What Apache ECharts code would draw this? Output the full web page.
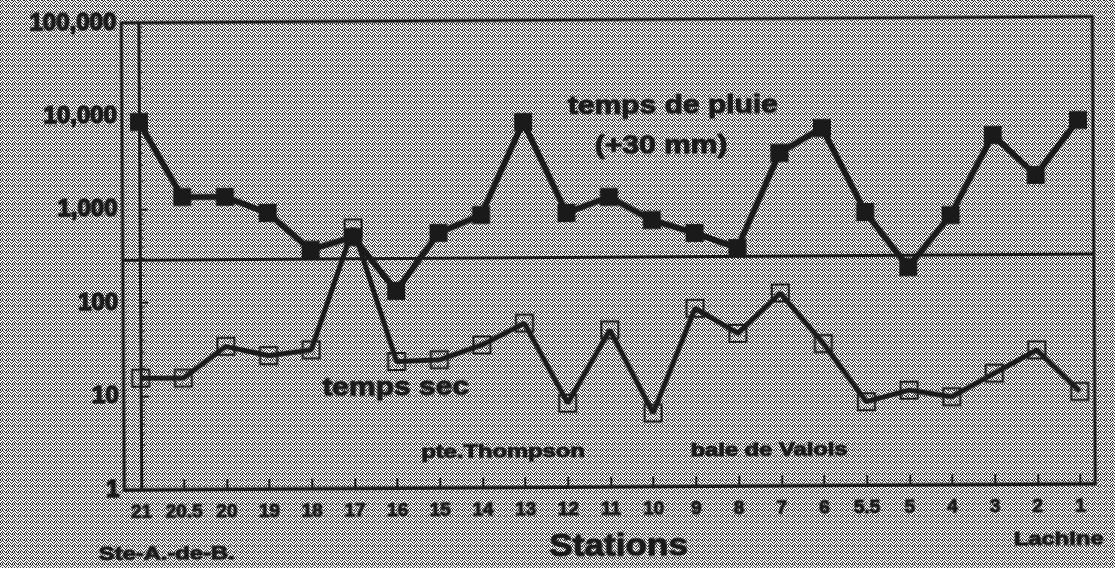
<!DOCTYPE html>
<html>
<head>
<meta charset="utf-8">
<script src="https://cdn.jsdelivr.net/npm/echarts@6/dist/echarts.min.js"></script>
<style>
  html, body { margin: 0; padding: 0; width: 1115px; height: 568px; overflow: hidden; background: #a8a8a8; }
  #chart { width: 1115px; height: 568px; transform: rotate(-0.37deg); transform-origin: 50% 50%; }
</style>
</head>
<body>
<div id="chart"></div>
<script>
// ---- data ----
const categories = ['21','20.5','20','19','18','17','16','15','14','13','12','11','10','9','8','7','6','5.5','5','4','3','2','1'];
const wetWeather = [8650,1350,1345,900,360,490,129,535,827,8130,857,1264,711,513,352,3640,6690,838,214,766,5480,2030,7820];
const dryWeather = [15.6,15.5,33.7,26.7,30.5,610,22.6,23.4,33.6,56.9,7.9,47.6,6.1,80,43,115,33,7.8,10.3,8.7,15.4,27.2,9.7];
const referenceLevel = 285;
const yMin = 1, yMax = 100000;

// ---- dithered background ----
(function () {
  const c = document.createElement('canvas');
  c.width = 6; c.height = 6;
  const g = c.getContext('2d');
  g.fillStyle = '#f0f0f0'; g.fillRect(0, 0, 6, 6);
  g.fillStyle = '#2e2e2e';
  [[0,0],[2,0],[5,0],[1,1],[3,1],[4,2],[0,2],[2,3],[5,3],[1,4],[3,4],[4,5],[0,5],[2,5]].forEach(p => g.fillRect(p[0], p[1], 1, 1));
  document.body.style.backgroundImage = 'url(' + c.toDataURL() + ')';
})();

const ink = '#1a1a1a';
const font = '"Liberation Sans", Arial, sans-serif';
const idx = categories.map((_, i) => i);
const txt = (text, x, y, size, sx) => ({
  type: 'text', x, y, scaleX: sx,
  style: { text, font: 'bold ' + size + 'px ' + font, fill: ink, stroke: ink, lineWidth: 1,
           textAlign: 'center', textVerticalAlign: 'middle' }
});

const chart = echarts.init(document.getElementById('chart'), null, { renderer: 'canvas' });
chart.setOption({
  backgroundColor: 'transparent',
  animation: false,
  grid: { left: 123, right: 21, top: 20, bottom: 81, show: true, borderColor: ink, borderWidth: 3, backgroundColor: 'transparent' },
  xAxis: {
    type: 'value', min: -0.4, max: 22.35,
    splitLine: { show: false },
    axisLine: { show: true, lineStyle: { color: ink, width: 3 } },
    axisTick: { show: true, inside: true, length: 10, lineStyle: { color: ink, width: 2 }, customValues: idx },
    axisLabel: { show: true, customValues: idx, margin: 13, color: ink, fontFamily: font, fontWeight: 'bold', fontSize: 19,
      textBorderColor: ink, textBorderWidth: 1,
      formatter: v => categories[Math.round(v)] ?? '' }
  },
  yAxis: {
    type: 'log', logBase: 10, min: yMin, max: yMax,
    splitLine: { show: false },
    axisLine: { show: true, lineStyle: { color: ink, width: 3 } },
    axisTick: { show: true, inside: true, length: 8, lineStyle: { color: ink, width: 2 } },
    minorTick: { show: true, splitNumber: 9, length: 4, lineStyle: { color: ink, width: 1 } },
    axisLabel: { color: ink, fontFamily: font, fontWeight: 'bold', fontSize: 24, margin: 5,
      textBorderColor: ink, textBorderWidth: 1.5,
      formatter: v => Number(v).toLocaleString('en-US') }
  },
  series: [
    {
      name: 'temps de pluie', type: 'line',
      data: wetWeather.map((v, i) => [i, v]),
      symbol: 'rect', symbolSize: 18,
      lineStyle: { color: ink, width: 6 },
      itemStyle: { color: ink },
      z: 3,
      markLine: {
        silent: true, symbol: 'none', label: { show: false },
        lineStyle: { color: ink, width: 3, type: 'solid' },
        data: [{ yAxis: referenceLevel }]
      }
    },
    {
      name: 'temps sec', type: 'line',
      data: dryWeather.map((v, i) => [i, v]),
      symbol: 'rect', symbolSize: 17,
      lineStyle: { color: ink, width: 5 },
      itemStyle: { color: 'rgba(0,0,0,0)', borderColor: ink, borderWidth: 2 },
      z: 4
    }
  ],
  graphic: [
    txt('temps de pluie', 674, 107, 25, 1.2),
    txt('(+30 mm)', 662, 147, 25, 1.2),
    txt('temps sec', 395, 387, 25, 1.2),
    txt('pte.Thompson', 502, 452, 19, 1.25),
    txt('baie de Valois', 768, 452, 19, 1.25),
    txt('Stations', 617, 547, 32, 1.1),
    txt('Ste-A.-de-B.', 165, 552, 19, 1.25),
    txt('Lachine', 1057, 543, 19, 1.25)
  ]
});
</script>
</body>
</html>
